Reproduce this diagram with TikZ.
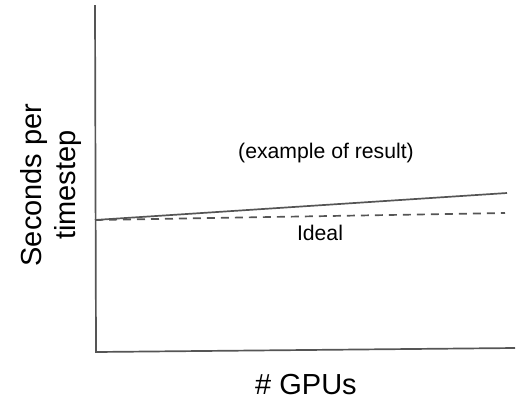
\documentclass[tikz,border=0pt]{standalone}
\usepackage{fontspec}
\setmainfont{Liberation Sans}
\usepackage{xcolor}
\usetikzlibrary{positioning}
\definecolor{axisgray}{HTML}{555555}
\tikzset{
  axis/.style={draw=axisgray, line width=1.7pt},
  small/.style={font=\fontsize{21.2}{25}\selectfont},
  big/.style={font=\fontsize{29}{34}\selectfont}
}

\begin{document}
\begin{tikzpicture}[x=1pt, y=-1pt]
        \useasboundingbox (0,0) rectangle (522,400);
        \coordinate (top) at (95,5);
        \coordinate (origin) at (96,352);
        \coordinate (xend) at (515,348);
        \coordinate (start) at (95,220);
        \coordinate (res) at (507,193);
        \coordinate (ideal) at (505,213);
        \draw[axis] (top) -- (origin) -- (xend);
        \draw[axis] (start) -- (res);
        \draw[axis, dash pattern=on 8pt off 6pt] (start) -- (ideal);
        \node[small] (result) at (326,153) {(example of result)};
        \node[small] (ideallbl) at (320,233) {Ideal};
        \node[big] (xlabel) at (306,385) {\# GPUs};
        \node[big, rotate=90, align=center] (ylabel) at (51,185) {Seconds per\\timestep};
      \end{tikzpicture}
\end{document}
